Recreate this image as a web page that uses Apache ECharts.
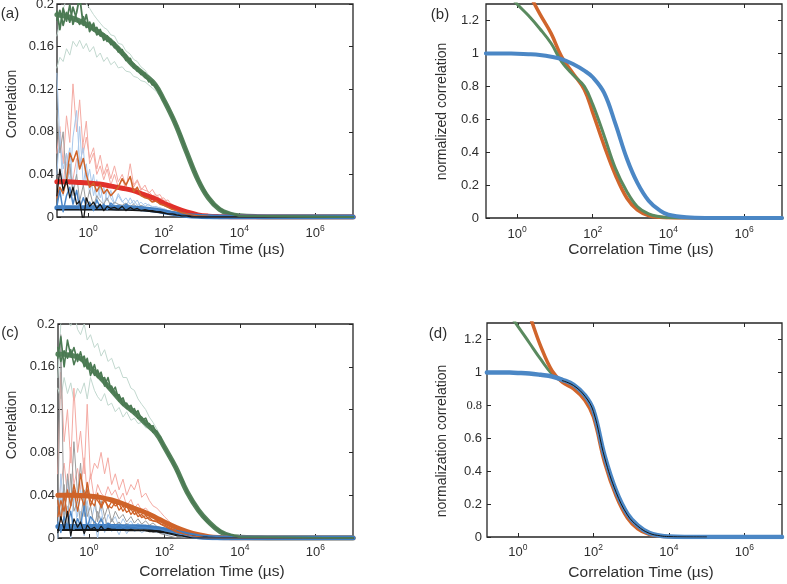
<!DOCTYPE html>
<html><head><meta charset="utf-8">
<script src="https://cdn.jsdelivr.net/npm/echarts@6/dist/echarts.min.js"></script>
<style>html,body{margin:0;padding:0;background:#fff}#c{width:787px;height:584px}</style>
</head><body><div id="c"></div>
<script>
// ---------- time grids (µs) ----------
const tRaw = [0.15,0.18,0.22,0.27,0.33,0.4,0.5,0.6,0.75,0.9,
  1.1,1.4,1.7,2.1,2.6,3.2,4,5,6.3,8,
  10,13,16,20,25,32,40,50,63,80,
  100,130,170,220,300,400,550,800,1200,2000,
  4000,1e4,1e7];
const tFit = [0.15,0.3,0.6,1,2,4,8,15,30,60,100,200,400,800,1500,3000,6000,1e4,3e4,1e5,1e7];
const xTickExp = [0, 2, 4, 6];            // tick labels 10^0 ... 10^6
const yTicksCorr = [0, 0.04, 0.08, 0.12, 0.16, 0.2];
const yTicksNorm = [0, 0.2, 0.4, 0.6, 0.8, 1, 1.2];

// ---------- panel (a) raw traces ----------
const aGreenDark1 = [.193,.176,.196,.184,.199,.181,.192,.207,.180,.190,.174,.182,.171,.176,.166,.170,.162,.164,.155,.157,.147,.149,.140,.141,.134,.135,.127,.128,.121,.118,.109,.104,.093,.086,.073,.062,.048,.036,.023,.013,.004,.001,0];
const aGreenDark2 = [.185,.194,.180,.192,.183,.197,.186,.181,.188,.178,.183,.175,.178,.170,.172,.165,.167,.159,.160,.152,.152,.144,.144,.137,.137,.131,.130,.124,.124,.116,.111,.102,.095,.084,.075,.060,.050,.034,.025,.012,.005,.001,0];
const aGreenLight1 = [.170,.182,.195,.205,.215,.210,.220,.208,.214,.200,.196,.190,.186,.182,.178,.176,.171,.170,.163,.162,.156,.153,.148,.146,.141,.138,.133,.130,.126,.120,.113,.106,.097,.088,.076,.064,.051,.037,.026,.014,.005,.001,0];
const aGreenLight2 = [.140,.150,.146,.158,.152,.165,.160,.166,.158,.163,.155,.160,.150,.154,.146,.150,.143,.146,.140,.141,.137,.136,.132,.131,.128,.127,.124,.121,.118,.113,.107,.100,.091,.083,.071,.059,.047,.034,.023,.012,.004,.001,0];
const aRedLight1 = [.060,.085,.050,.095,.070,.125,.080,.110,.060,.075,.055,.065,.045,.058,.040,.050,.036,.048,.033,.040,.030,.038,.028,.034,.025,.030,.022,.026,.020,.021,.015,.016,.010,.009,.006,.005,.003,.002,.001,.001,0,0,0];
const aRedLight2 = [.020,.045,.030,.060,.040,.035,.055,.045,.070,.090,.050,.060,.040,.048,.035,.045,.030,.040,.028,.036,.026,.050,.030,.035,.027,.025,.024,.020,.021,.017,.018,.013,.012,.008,.007,.004,.003,.002,.001,0,0,0,0];
const aOrange = [.018,.028,.022,.035,.060,.052,.062,.045,.055,.040,.028,.032,.024,.030,.022,.026,.020,.024,.028,.036,.030,.038,.024,.028,.020,.018,.017,.014,.015,.012,.011,.009,.007,.006,.004,.003,.002,.001,.001,0,0,0,0];
const aBlueLight1 = [.135,.070,.045,.060,.030,.075,.100,.050,.065,.030,.045,.020,.035,.018,.028,.015,.025,.012,.020,.014,.018,.012,.016,.011,.014,.010,.012,.009,.010,.008,.008,.006,.005,.004,.003,.002,.001,.001,0,0,0,0,0];
const aBlueLight2 = [.040,.080,.020,.050,.065,.025,.040,.085,.030,.050,.022,.040,.015,.030,.010,.025,.018,.012,.022,.015,.010,.018,.012,.016,.009,.013,.011,.010,.009,.009,.007,.006,.005,.003,.002,.002,.001,0,0,0,0,0,0];
const aBlueMid = [.010,.025,.005,.020,.028,.012,.025,.008,.018,.010,.014,.006,.016,.009,.012,.007,.013,.010,.011,.008,.012,.009,.010,.008,.009,.008,.008,.007,.007,.006,.005,.004,.003,.002,.0015,.001,0,0,0,0,0,0,0];
const aBlack = [.020,.045,.025,.035,.018,.028,.012,.015,-.005,.018,.010,.014,.008,.012,.006,.010,.008,.009,.007,.010,.006,.009,.007,.008,.006,.007,.006,.006,.005,.005,.004,.003,.003,.002,.001,.001,0,0,0,0,0,0,0];
const aGray = [.100,.060,.080,.030,.050,.020,.040,.015,.030,.012,.025,.010,.020,.015,.012,.018,.010,.014,.012,.011,.013,.010,.012,.009,.011,.009,.009,.008,.008,.007,.006,.005,.004,.003,.002,.001,.001,0,0,0,0,0,0];
// ---------- panel (a) fits ----------
const aGreenFit = [.190,.188,.184,.180,.173,.165,.154,.143,.134,.124,.110,.088,.061,.035,.018,.007,.0025,.0012,.0003,0,0];
const aRedFit = [.033,.033,.0325,.032,.031,.029,.027,.025,.021,.017,.013,.0085,.0047,.002,.0008,.0003,.0001,0,0,0,0];
const aBlueFit = [.0088,.0088,.0088,.0088,.0088,.0087,.0086,.0084,.0076,.0063,.005,.003,.0015,.0006,.0002,0,0,0,0,0,0];
const aBlackFit = [.0068,.0068,.0068,.0068,.0068,.0067,.0066,.0064,.0058,.0048,.0038,.0023,.0011,.0004,.0001,0,0,0,0,0,0];

// ---------- panel (c) raw traces ----------
const cGreenDark1 = [.168,.188,.160,.185,.170,.178,.165,.174,.160,.168,.152,.162,.150,.155,.142,.150,.136,.141,.128,.131,.121,.124,.116,.119,.110,.112,.104,.105,.097,.094,.084,.079,.070,.063,.053,.044,.034,.027,.017,.011,.004,.001,0];
const cGreenDark2 = [.178,.165,.175,.168,.176,.162,.172,.166,.170,.158,.164,.152,.157,.148,.150,.140,.142,.133,.134,.124,.126,.118,.121,.112,.113,.106,.107,.099,.100,.090,.086,.077,.072,.061,.055,.042,.036,.025,.019,.010,.004,.001,0];
const cGreenLight1 = [.150,.200,.210,.205,.198,.212,.195,.190,.200,.185,.190,.178,.182,.170,.176,.165,.168,.158,.160,.150,.150,.140,.138,.130,.125,.120,.113,.108,.102,.095,.088,.080,.072,.063,.055,.044,.035,.026,.018,.011,.004,.001,0];
const cGreenLight2 = [.140,.130,.150,.135,.145,.128,.140,.135,.145,.130,.150,.138,.132,.128,.135,.124,.126,.118,.122,.113,.118,.110,.112,.107,.108,.103,.103,.099,.097,.090,.084,.077,.070,.061,.053,.042,.034,.025,.017,.010,.004,.001,0];
const cSalmon1 = [.060,.155,.090,.120,.070,.140,.080,.100,.060,.125,.055,.070,.065,.080,.060,.075,.050,.060,.045,.055,.040,.050,.045,.055,.038,.042,.035,.030,.028,.024,.020,.016,.012,.009,.006,.004,.002,.001,.001,0,0,0,0];
const cSalmon2 = [.030,.050,.070,.040,.085,.050,.065,.045,.075,.040,.060,.035,.050,.042,.038,.048,.040,.045,.035,.042,.030,.036,.028,.032,.026,.028,.024,.022,.020,.018,.016,.013,.010,.008,.005,.003,.002,.001,0,0,0,0,0];
const cOrange1 = [.020,.035,.025,.045,.030,.050,.035,.060,.040,.045,.030,.040,.035,.030,.038,.028,.034,.030,.032,.025,.030,.022,.026,.020,.022,.018,.019,.016,.016,.013,.012,.010,.008,.006,.004,.003,.002,.001,0,0,0,0,0];
const cOrange2 = [.035,.015,.040,.020,.030,.045,.025,.040,.030,.052,.035,.030,.042,.028,.035,.030,.028,.034,.026,.030,.024,.027,.022,.024,.019,.021,.017,.016,.015,.013,.011,.009,.007,.005,.004,.002,.001,.001,0,0,0,0,0];
const cBlueLight1 = [.010,.040,.015,.055,.030,.050,.020,.045,.025,.035,.012,.030,.020,.028,.008,.022,.015,.020,.010,.018,.012,.016,.010,.014,.009,.012,.010,.010,.009,.008,.007,.006,.005,.004,.003,.002,.001,0,0,0,0,0,0];
const cBlueLight2 = [0,.060,.020,.030,0,.045,.010,.025,.002,.030,.008,.015,0,.020,.005,.012,.006,.010,.003,.012,.004,.010,.006,.008,.005,.007,.006,.006,.005,.005,.004,.003,.003,.002,.001,.001,0,0,0,0,0,0,0];
const cBlueMid = [.015,.005,.020,.010,.025,.008,.018,.012,.030,.010,.020,.015,.012,.018,.010,.014,.012,.011,.013,.010,.012,.011,.011,.010,.010,.010,.009,.009,.008,.008,.007,.006,.005,.004,.003,.002,.001,0,0,0,0,0,0];
const cBlack = [.005,.020,.008,.025,.002,.018,.010,.015,.004,.012,.008,.010,.006,.011,.007,.009,.008,.008,.007,.008,.007,.008,.007,.007,.007,.007,.006,.006,.006,.005,.005,.004,.003,.002,.002,.001,0,0,0,0,0,0,0];
const cGray1 = [.020,.190,.010,.060,.030,.090,.040,.070,.020,.050,.030,.040,.015,.035,.020,.030,.015,.025,.018,.022,.015,.020,.014,.018,.013,.016,.012,.014,.011,.010,.009,.007,.006,.004,.003,.002,.001,0,0,0,0,0,0];
const cGray2 = [.040,.020,.050,.010,.060,.025,.035,.015,.045,.020,.030,.010,.025,.015,.020,.008,.018,.012,.015,.010,.014,.009,.012,.008,.010,.006,.008,.005,.006,.004,.003,.002,.001,0,0,0,0,0,0,0,0,0,0];
// ---------- panel (c) fits ----------
const cGreenFit = [.172,.171,.168,.160,.150,.138,.126,.118,.108,.098,.085,.066,.043,.026,.015,.006,.0018,.0008,.0002,0,0];
const cOrangeFit = [.040,.040,.0398,.0393,.038,.0355,.032,.028,.024,.019,.015,.010,.006,.003,.0012,.0004,.0001,0,0,0,0];
const cBlueFit = [.0108,.0108,.0108,.0108,.0108,.0107,.0106,.0105,.0102,.009,.0078,.0055,.003,.0012,.0004,.0001,0,0,0,0,0];
const cBlackFit = [.0075,.0075,.0075,.0075,.0075,.0075,.0074,.0073,.0072,.0065,.0055,.0038,.002,.0008,.0003,0,0,0,0,0,0];

// ---------- panel (b) normalized fits ----------
const bGreen = [1.50,1.44,1.36,1.30,1.23,1.15,1.06,0.95,0.87,0.80,0.69,0.50,0.30,0.16,0.07,0.025,0.008,0.003,0.0005,0,0];
const bOrange = [2.0,1.8,1.6,1.5,1.37,1.24,1.12,0.98,0.88,0.78,0.64,0.44,0.26,0.12,0.05,0.015,0.004,0.0015,0,0,0];
const bBlue = [1.0,1.0,0.999,0.998,0.995,0.99,0.98,0.965,0.935,0.895,0.855,0.76,0.57,0.36,0.215,0.105,0.045,0.02,0.004,0.0005,0];
// ---------- panel (d) normalized fits ----------
const dGreen = [1.52,1.44,1.35,1.28,1.18,1.08,0.99,0.945,0.915,0.85,0.76,0.48,0.27,0.13,0.065,0.023,0.007,0.003,0.0005,0,0];
const dOrange = [2.0,1.85,1.65,1.52,1.35,1.16,1.01,0.94,0.90,0.83,0.73,0.45,0.25,0.115,0.05,0.016,0.005,0.002,0,0,0];
const dBlue = [1.0,1.0,0.999,0.997,0.993,0.985,0.975,0.955,0.925,0.86,0.77,0.49,0.28,0.14,0.07,0.025,0.008,0.003,0.0005,0,0];
const dBlack = [null,null,null,null,null,null,null,0.95,0.92,0.855,0.763,0.48,0.272,0.134,0.066,0.023,0.007,0.0027,0.0004,0,null];

// ---------- colours ----------
const C = {
  green:'#55835c', greenDark:'#4b7a53', greenLight:'#c2d8cf',
  red:'#e1302a', salmon:'#f4aaa3', orange:'#cf6329',
  blue:'#3f7cbf', blueLight:'#a9c8eb', blueMid:'#4a86c8',
  black:'#161616', gray:'#9c9c9c',
  bGreen:'#5a8a5f', bOrange:'#d0652c', bBlue:'#4b87c5'
};
const FONT = '"Liberation Sans", Arial, sans-serif';
const TXT = '#2e2e2e';

function mk(gi, t, vals, color, width, smooth) {
  return {
    type:'line', xAxisIndex:gi, yAxisIndex:gi,
    data: t.map((x,i) => [Math.log10(x), vals[i]]),
    showSymbol:false, symbol:'none', silent:true, clip:true, animation:false,
    smooth: smooth ? 0.4 : false,
    lineStyle:{ color, width, join:'round', cap:'round' }
  };
}

const series = [
  // (a) light raw
  mk(0,tRaw,aGreenLight1,C.greenLight,1),
  mk(0,tRaw,aGreenLight2,C.greenLight,1),
  mk(0,tRaw,aRedLight1,C.salmon,1),
  mk(0,tRaw,aRedLight2,C.salmon,1),
  mk(0,tRaw,aBlueLight1,C.blueLight,1),
  mk(0,tRaw,aBlueLight2,C.blueLight,1),
  mk(0,tRaw,aGray,C.gray,1),
  // (a) fits
  mk(0,tFit,aGreenFit,C.green,5,true),
  mk(0,tFit,aRedFit,C.red,5,true),
  mk(0,tFit,aBlueFit,C.blue,5,true),
  mk(0,tFit,aBlackFit,C.black,1.5,true),
  // (a) dark raw
  mk(0,tRaw,aOrange,C.orange,1.5),
  mk(0,tRaw,aBlueMid,C.blueMid,1.5),
  mk(0,tRaw,aBlack,C.black,1.3),
  mk(0,tRaw,aGreenDark1,C.greenDark,1.8),
  mk(0,tRaw,aGreenDark2,C.greenDark,1.8),

  // (b)
  mk(1,tFit,bOrange,C.bOrange,3.5,true),
  mk(1,tFit,bGreen,C.bGreen,3,true),
  mk(1,tFit,bBlue,C.bBlue,4,true),

  // (c) light raw
  mk(2,tRaw,cGreenLight1,C.greenLight,1),
  mk(2,tRaw,cGreenLight2,C.greenLight,1),
  mk(2,tRaw,cSalmon1,C.salmon,1),
  mk(2,tRaw,cSalmon2,C.salmon,1),
  mk(2,tRaw,cBlueLight1,C.blueLight,1),
  mk(2,tRaw,cBlueLight2,C.blueLight,1),
  mk(2,tRaw,cGray1,C.gray,1),
  mk(2,tRaw,cGray2,C.gray,1),
  // (c) fits
  mk(2,tFit,cGreenFit,C.green,5,true),
  mk(2,tFit,cOrangeFit,C.orange,5,true),
  mk(2,tFit,cBlueFit,C.blue,5,true),
  mk(2,tFit,cBlackFit,C.black,2,true),
  // (c) dark raw
  mk(2,tRaw,cOrange1,C.orange,1.3),
  mk(2,tRaw,cOrange2,C.orange,1.3),
  mk(2,tRaw,cBlueMid,C.blueMid,1.3),
  mk(2,tRaw,cBlack,C.black,1.2),
  mk(2,tRaw,cGreenDark1,C.greenDark,1.6),
  mk(2,tRaw,cGreenDark2,C.greenDark,1.6),

  // (d)
  mk(3,tFit,dGreen,C.bGreen,3,true),
  mk(3,tFit,dOrange,C.bOrange,3.5,true),
  mk(3,tFit,dBlue,C.bBlue,4.5,true),
  mk(3,tFit,dBlack,C.black,1,true)
];

const grids = [
  {left:57, top:4, width:296, height:213},
  {left:486, top:4, width:296, height:214},
  {left:58, top:324, width:295, height:214},
  {left:487, top:323, width:295, height:214}
].map(g => Object.assign(g, {show:true, borderColor:'#262626', borderWidth:1.3,
  backgroundColor:'rgba(0,0,0,0)', containLabel:false, outerBoundsMode:'none'}));

const xMargins = [7, 7, 5, 6];
const yMargins = [3, 7, 3, 5];
const xAxes = [], yAxes = [];
for (let gi = 0; gi < 4; gi++) {
  const tick = {show:true, inside:true, length:4, customValues:xTickExp, lineStyle:{color:'#262626', width:1}};
  xAxes.push({
    type:'value', gridIndex:gi, position:'bottom', min:-0.82, max:7,
    axisLine:{show:false, onZero:false}, splitLine:{show:false}, axisTick:tick,
    axisLabel:{
      customValues:xTickExp, margin:xMargins[gi], color:TXT,
      formatter: v => '{b|10}{e|' + v + '}',
      rich:{ b:{fontSize:13, fontFamily:FONT, color:TXT},
             e:{fontSize:8.5, fontFamily:FONT, color:TXT, padding:[0,0,9,0]} }
    }
  });
  xAxes.push({
    type:'value', gridIndex:gi, position:'top', min:-0.82, max:7,
    axisLine:{show:false, onZero:false}, splitLine:{show:false}, axisTick:tick,
    axisLabel:{show:false}
  });
  const norm = gi % 2 === 1;
  const yt = norm ? yTicksNorm : yTicksCorr;
  const ytick = {show:true, inside:true, length:4, customValues:yt, lineStyle:{color:'#262626', width:1}};
  yAxes.push({
    type:'value', gridIndex:gi, position:'left', min:0, max: norm ? 1.3 : 0.2,
    axisLine:{show:false, onZero:false}, splitLine:{show:false}, axisTick:ytick,
    axisLabel:{
      customValues:yt, margin:yMargins[gi], color:TXT, fontSize:13, fontFamily:FONT,
      formatter: v => {
        const s = String(Math.round(v*100)/100);
        return (gi === 3 && s === '0.8') ? '{serif|0.8}' : s;
      },
      rich:{ serif:{fontFamily:'"Liberation Serif", "DejaVu Serif", serif', fontSize:12.5, color:TXT} }
    }
  });
  yAxes.push({
    type:'value', gridIndex:gi, position:'right', min:0, max: norm ? 1.3 : 0.2,
    axisLine:{show:false, onZero:false}, splitLine:{show:false}, axisTick:ytick,
    axisLabel:{show:false}
  });
}
// map series axis indices (bottom/left axes are even indices)
series.forEach(s => { s.xAxisIndex = s.xAxisIndex * 2; s.yAxisIndex = s.yAxisIndex * 2; });

function txt(x, y, text, size, rot, family) {
  return { type:'text', x, y, rotation: rot || 0, silent:true,
    style:{ text, fontSize:size, fontFamily: family || FONT, fill:TXT, align:'center', verticalAlign:'middle' } };
}
const NARROW = '"Liberation Sans Narrow", "Arial Narrow", "Liberation Sans", sans-serif';
const graphic = [
  txt(10, 14, '(a)', 15, 0, NARROW),
  txt(440, 15, '(b)', 15, 0, NARROW),
  txt(10, 333, '(c)', 15, 0, NARROW),
  txt(438, 334, '(d)', 15, 0, NARROW),
  txt(12, 104, 'Correlation', 14, Math.PI/2),
  txt(442, 111.5, 'normalized correlation', 14, Math.PI/2),
  txt(12.5, 425, 'Correlation', 14, Math.PI/2),
  txt(442, 441, 'normalization correlation', 14, Math.PI/2),
  txt(212, 250, 'Correlation Time (µs)', 15.5),
  txt(641, 250, 'Correlation Time (µs)', 15.5),
  txt(212, 572, 'Correlation Time (µs)', 15.5),
  txt(641, 573, 'Correlation Time (µs)', 15.5)
];

const chart = echarts.init(document.getElementById('c'), null, {renderer:'canvas'});
chart.setOption({
  animation:false, backgroundColor:'#fff',
  grid:grids, xAxis:xAxes, yAxis:yAxes, series, graphic
});
</script></body></html>
